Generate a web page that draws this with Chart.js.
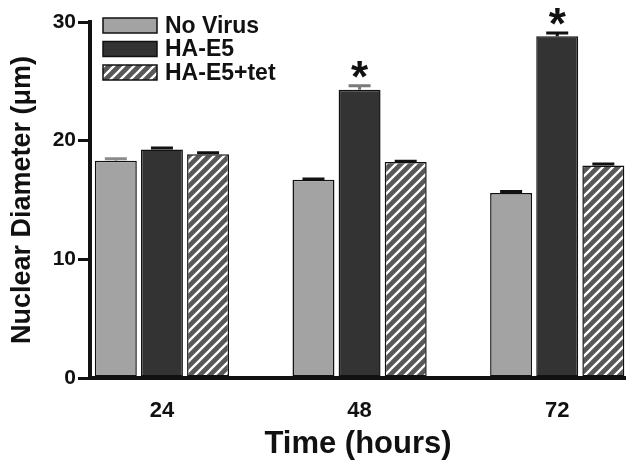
<!DOCTYPE html>
<html><head><meta charset="utf-8">
<script src="https://cdn.jsdelivr.net/npm/chart.js@4"></script>
<style>html,body{margin:0;padding:0;background:#fff}</style>
</head><body>
<canvas id="c" width="626" height="463" style="width:626px;height:463px;display:block"></canvas>
<script>
// ---- data ----
const categories = ['24', '48', '72'];
const seriesNames = ['No Virus', 'HA-E5', 'HA-E5+tet'];
const noVirus = [18.3, 16.7, 15.6];
const noVirusErr = [0.3, 0.2, 0.25];
const haE5 = [19.25, 24.3, 28.8];
const haE5Err = [0.25, 0.45, 0.4];
const haE5Tet = [18.85, 18.2, 17.9];
const haE5TetErr = [0.25, 0.2, 0.25];
const haE5Significant = [false, true, true];
const yTickValues = [0, 10, 20, 30];
const xAxisTitle = 'Time (hours)';
const yAxisTitle = 'Nuclear Diameter (\u03bcm)';

// ---- styles ----
const FONT = "'Liberation Sans', Arial, Helvetica, sans-serif";
const INK = '#111111';
const errColors = [['#8c8c8c', INK, INK], [INK, '#7a7a7a', INK], [INK, INK, INK]];

const canvas = document.getElementById('c');
const ctx = canvas.getContext('2d');

function hatchPattern() {
  const t = document.createElement('canvas');
  t.width = 10; t.height = 10;
  const g = t.getContext('2d');
  g.fillStyle = '#585858';
  g.fillRect(0, 0, 10, 10);
  g.strokeStyle = '#ffffff';
  g.lineWidth = 2.3;
  g.beginPath();
  g.moveTo(-2, 12); g.lineTo(12, -2);
  g.moveTo(-2, 2); g.lineTo(2, -2);
  g.moveTo(8, 12); g.lineTo(12, 8);
  g.stroke();
  return ctx.createPattern(t, 'repeat');
}

const toPoints = arr => categories.map((c, i) => ({ x: i, y: arr[i] }));

const errorBarPlugin = {
  id: 'errorBars',
  afterDatasetsDraw(chart) {
    const c = chart.ctx;
    const ys = chart.scales.y;
    chart.data.datasets.forEach((ds, di) => {
      const meta = chart.getDatasetMeta(di);
      meta.data.forEach((bar, i) => {
        const v = ds.data[i].y;
        const top = ys.getPixelForValue(v + ds.errors[i]);
        c.save();
        c.strokeStyle = errColors[di][i];
        c.lineWidth = 3;
        c.beginPath();
        c.moveTo(bar.x, bar.y);
        c.lineTo(bar.x, top);
        c.moveTo(bar.x - 11, top + 1.5);
        c.lineTo(bar.x + 11, top + 1.5);
        c.stroke();
        if (ds.significant && ds.significant[i]) {
          c.fillStyle = INK;
          c.font = 'bold 44px ' + FONT;
          c.textAlign = 'center';
          c.textBaseline = 'alphabetic';
          c.fillText('*', bar.x, top + 8);
        }
        c.restore();
      });
    });
  }
};

const legendPlugin = {
  id: 'boxLegend',
  afterDraw(chart) {
    const c = chart.ctx;
    chart.data.datasets.forEach((ds, i) => {
      const y = 25.5 + i * 23.5;
      c.save();
      c.fillStyle = ds.backgroundColor;
      c.fillRect(103, y - 7.5, 54, 15);
      c.strokeStyle = INK;
      c.lineWidth = 1.5;
      c.strokeRect(103, y - 7.5, 54, 15);
      c.fillStyle = INK;
      c.font = 'bold 23px ' + FONT;
      c.textAlign = 'left';
      c.textBaseline = 'middle';
      c.fillText(ds.label, 165, y + 1);
      c.restore();
    });
  }
};

const barStyle = { borderColor: INK, borderWidth: 1.5, borderSkipped: false,
  categoryPercentage: 0.70, barPercentage: 0.91 };

new Chart(ctx, {
  type: 'bar',
  data: {
    datasets: [
      Object.assign({ label: seriesNames[0], data: toPoints(noVirus), errors: noVirusErr,
        backgroundColor: '#a3a3a3' }, barStyle),
      Object.assign({ label: seriesNames[1], data: toPoints(haE5), errors: haE5Err,
        significant: haE5Significant, backgroundColor: '#333333' }, barStyle),
      Object.assign({ label: seriesNames[2], data: toPoints(haE5Tet), errors: haE5TetErr,
        backgroundColor: hatchPattern() }, barStyle)
    ]
  },
  options: {
    responsive: false,
    animation: false,
    devicePixelRatio: 1,
    layout: { padding: { top: 22, left: 0, right: 0, bottom: 0 } },
    plugins: { legend: { display: false }, tooltip: { enabled: false } },
    scales: {
      x: {
        type: 'linear',
        min: -0.364,
        max: 2.348,
        offset: false,
        afterBuildTicks: s => { s.ticks = categories.map((c, i) => ({ value: i })); },
        ticks: {
          callback: v => categories[v],
          font: { family: FONT, size: 22, weight: 'bold' },
          color: INK, padding: 12, maxRotation: 0, autoSkip: false
        },
        grid: { display: false },
        border: { display: true, color: INK, width: 4 },
        title: { display: true, text: xAxisTitle, color: INK, padding: 0,
          font: { family: FONT, size: 31, weight: 'bold' } },
        afterFit: s => { s.height = 85; }
      },
      y: {
        min: 0, max: 30,
        afterBuildTicks: s => { s.ticks = yTickValues.map(v => ({ value: v })); },
        ticks: { font: { family: FONT, size: 21, weight: 'bold' }, color: INK, padding: 2 },
        grid: { drawOnChartArea: false, drawTicks: true, tickLength: 12, tickWidth: 3,
          tickColor: INK, color: INK, lineWidth: 3 },
        border: { display: true, color: INK, width: 4 },
        title: { display: true, text: yAxisTitle, color: INK, padding: { top: 6, bottom: 0 },
          font: { family: FONT, size: 27, weight: 'bold' } },
        afterFit: s => { s.width = 90; }
      }
    }
  },
  plugins: [errorBarPlugin, legendPlugin]
});
</script>
</body></html>
